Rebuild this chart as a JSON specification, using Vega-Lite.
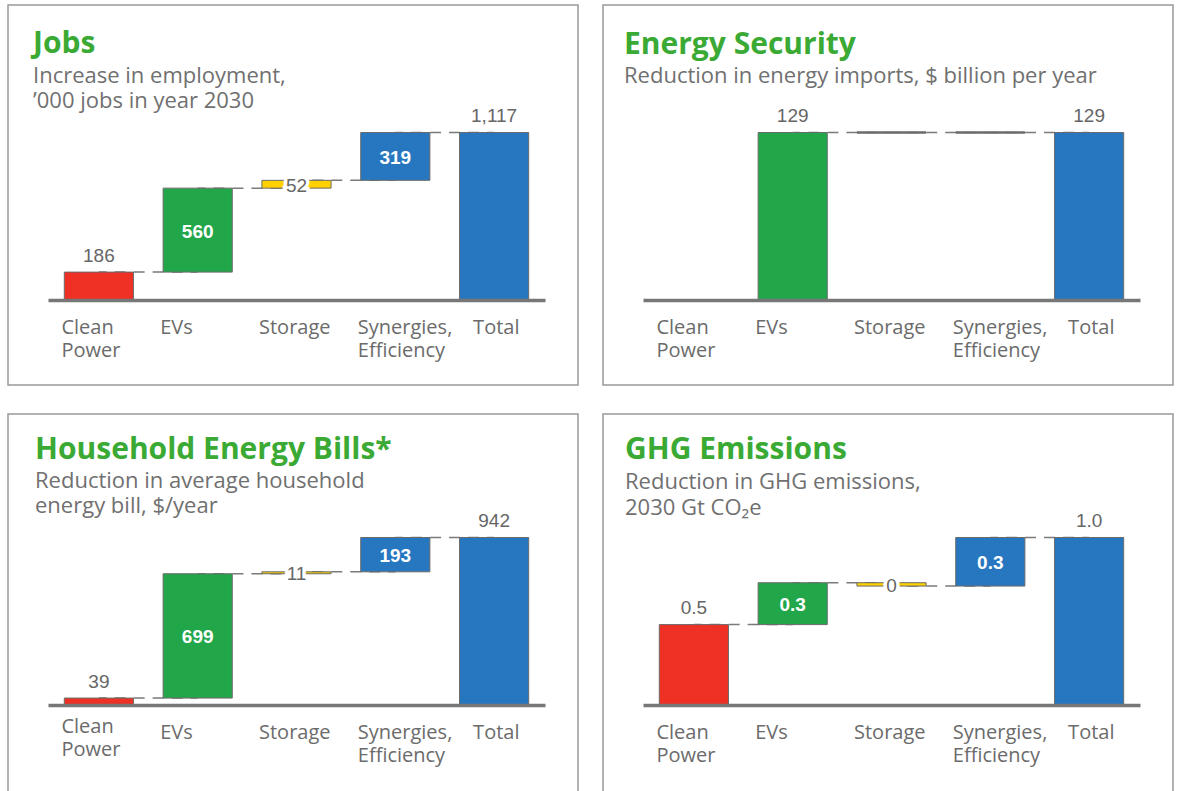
{
  "$schema": "https://vega.github.io/schema/vega-lite/v6.json",
  "background": "white",
  "padding": {"left": 7, "top": 4, "right": 5, "bottom": 0},
  "columns": 2,
  "spacing": {"row": 27, "column": 23},
  "resolve": {"scale": {"x": "independent", "y": "independent"}},
  "config": {"view": {"stroke": "#999999", "strokeWidth": 1.5}},
  "datasets": {
    "jobs": [
      {"category": "Clean Power", "start": 0, "end": 186, "label": "186", "next": "EVs"},
      {"category": "EVs", "start": 186, "end": 746, "label": "560", "next": "Storage"},
      {"category": "Storage", "start": 746, "end": 798, "label": "52", "next": "Synergies, Efficiency"},
      {"category": "Synergies, Efficiency", "start": 798, "end": 1117, "label": "319", "next": "Total"},
      {"category": "Total", "start": 0, "end": 1117, "label": "1,117", "next": null}
    ],
    "security": [
      {"category": "Clean Power", "start": 0, "end": 0, "label": "", "next": null},
      {"category": "EVs", "start": 0, "end": 129, "label": "129", "next": "Storage"},
      {"category": "Storage", "start": 129, "end": 129, "label": "", "next": "Synergies, Efficiency"},
      {"category": "Synergies, Efficiency", "start": 129, "end": 129, "label": "", "next": "Total"},
      {"category": "Total", "start": 0, "end": 129, "label": "129", "next": null}
    ],
    "bills": [
      {"category": "Clean Power", "start": 0, "end": 39, "label": "39", "next": "EVs"},
      {"category": "EVs", "start": 39, "end": 738, "label": "699", "next": "Storage"},
      {"category": "Storage", "start": 738, "end": 749, "label": "11", "next": "Synergies, Efficiency"},
      {"category": "Synergies, Efficiency", "start": 749, "end": 942, "label": "193", "next": "Total"},
      {"category": "Total", "start": 0, "end": 942, "label": "942", "next": null}
    ],
    "ghg": [
      {"category": "Clean Power", "start": 0, "end": 0.48, "label": "0.5", "next": "EVs"},
      {"category": "EVs", "start": 0.48, "end": 0.73, "label": "0.3", "next": "Storage"},
      {"category": "Storage", "start": 0.73, "end": 0.71, "label": "0", "next": "Synergies, Efficiency"},
      {"category": "Synergies, Efficiency", "start": 0.71, "end": 1.0, "label": "0.3", "next": "Total"},
      {"category": "Total", "start": 0, "end": 1.0, "label": "1.0", "next": null}
    ]
  },
  "concat": [
    {
      "width": 570, "height": 380,
      "title": {"text": "Jobs", "subtitle": ["Increase in employment,", "’000 jobs in year 2030"], "anchor": "start", "frame": "group", "orient": "top", "offset": -107.5, "dx": 25, "font": "Open Sans", "fontSize": 30, "fontWeight": "bold", "color": "#3aaa35", "subtitleFont": "Open Sans", "subtitleFontSize": 22, "subtitleColor": "#707070", "subtitlePadding": 7, "subtitleLineHeight": 25.2},
      "data": {"name": "jobs"},
      "encoding": {
        "x": {"field": "category", "type": "nominal",
          "scale": {"domain": ["Clean Power", "EVs", "Storage", "Synergies, Efficiency", "Total"], "range": [40, 537], "paddingInner": 0.3, "paddingOuter": 0.165},
          "axis": {"title": null, "orient": "bottom", "offset": -85, "ticks": false, "tickSize": 0, "domainColor": "#777777", "domainWidth": 3.5, "domainCap": "butt", "labelAngle": 0, "labelFont": "Open Sans", "labelFontSize": 20, "labelColor": "#6b6b6b", "labelPadding": 17.5, "labelLineHeight": 23, "labelBaseline": "top", "labelAlign": "left", "labelOffset": {"condition": {"test": "datum.value === 'Total'", "value": -21}, "value": -37.5}, "labelBound": false, "labelOverlap": false, "labelFlush": false, "zindex": 1,
            "labelExpr": "datum.value === 'Clean Power' ? ['Clean', 'Power'] : datum.value === 'Synergies, Efficiency' ? ['Synergies,', 'Efficiency'] : datum.value"}}
      },
      "layer": [
        {"transform": [{"filter": "datum.next != null"}],
          "mark": {"type": "rule", "stroke": "#7a7a7a", "strokeWidth": 1.5, "strokeDash": [11, 8], "strokeDashOffset": 3.25},
          "encoding": {"x2": {"field": "next"}, "y": {"field": "end", "type": "quantitative", "scale": {"domain": [0, 1117], "range": [295, 127.5], "nice": false, "zero": false}, "axis": null}}},
        {"mark": {"type": "bar", "stroke": "#6b6b6b", "strokeWidth": 1},
          "encoding": {"y": {"field": "start", "type": "quantitative", "scale": {"domain": [0, 1117], "range": [295, 127.5], "nice": false, "zero": false}, "axis": null}, "y2": {"field": "end"},
            "color": {"field": "category", "type": "nominal", "scale": {"domain": ["Clean Power", "EVs", "Storage", "Synergies, Efficiency", "Total"], "range": ["#ee3124", "#22a64a", "#ffd100", "#2677bf", "#2677bf"]}, "legend": null}}},
        {"transform": [{"filter": {"field": "category", "oneOf": ["Clean Power", "Total"]}}],
          "mark": {"type": "text", "font": "Liberation Sans", "fontSize": 19, "fill": "#666666", "baseline": "alphabetic", "dy": -10.5},
          "encoding": {"y": {"field": "end", "type": "quantitative", "scale": {"domain": [0, 1117], "range": [295, 127.5], "nice": false, "zero": false}, "axis": null}, "text": {"field": "label"}}},
        {"transform": [{"filter": {"field": "category", "oneOf": ["EVs", "Synergies, Efficiency"]}}, {"fold": ["start", "end"], "as": ["k", "v"]}],
          "mark": {"type": "text", "font": "Liberation Sans", "fontSize": 19, "fontWeight": "bold", "fill": "white", "baseline": "middle", "dy": 1.5},
          "encoding": {"y": {"aggregate": "mean", "field": "v", "type": "quantitative", "scale": {"domain": [0, 1117], "range": [295, 127.5], "nice": false, "zero": false}, "axis": null}, "text": {"field": "label"}}},
        {"transform": [{"filter": {"field": "category", "equal": "Storage"}}, {"fold": ["start", "end"], "as": ["k", "v"]}],
          "mark": {"type": "text", "font": "Liberation Sans", "fontSize": 19, "fill": "white", "stroke": "white", "strokeWidth": 7, "baseline": "middle", "dy": 1.5},
          "encoding": {"y": {"aggregate": "mean", "field": "v", "type": "quantitative", "scale": {"domain": [0, 1117], "range": [295, 127.5], "nice": false, "zero": false}, "axis": null}, "text": {"field": "label"}}},
        {"transform": [{"filter": {"field": "category", "equal": "Storage"}}, {"fold": ["start", "end"], "as": ["k", "v"]}],
          "mark": {"type": "text", "font": "Liberation Sans", "fontSize": 19, "fill": "#666666", "baseline": "middle", "dy": 1.5},
          "encoding": {"y": {"aggregate": "mean", "field": "v", "type": "quantitative", "scale": {"domain": [0, 1117], "range": [295, 127.5], "nice": false, "zero": false}, "axis": null}, "text": {"field": "label"}}}
      ]
    },
    {
      "width": 570, "height": 380,
      "title": {"text": "Energy Security", "subtitle": ["Reduction in energy imports, $ billion per year"], "anchor": "start", "frame": "group", "orient": "top", "offset": -81.9, "dx": 21, "font": "Open Sans", "fontSize": 30, "fontWeight": "bold", "color": "#3aaa35", "subtitleFont": "Open Sans", "subtitleFontSize": 22, "subtitleColor": "#707070", "subtitlePadding": 6.4, "subtitleLineHeight": 25},
      "data": {"name": "security"},
      "encoding": {
        "x": {"field": "category", "type": "nominal",
          "scale": {"domain": ["Clean Power", "EVs", "Storage", "Synergies, Efficiency", "Total"], "range": [40, 537], "paddingInner": 0.3, "paddingOuter": 0.165},
          "axis": {"title": null, "orient": "bottom", "offset": -85, "ticks": false, "tickSize": 0, "domainColor": "#777777", "domainWidth": 3.5, "domainCap": "butt", "labelAngle": 0, "labelFont": "Open Sans", "labelFontSize": 20, "labelColor": "#6b6b6b", "labelPadding": 17.5, "labelLineHeight": 23, "labelBaseline": "top", "labelAlign": "left", "labelOffset": {"condition": {"test": "datum.value === 'Total'", "value": -21}, "value": -37.5}, "labelBound": false, "labelOverlap": false, "labelFlush": false, "zindex": 1,
            "labelExpr": "datum.value === 'Clean Power' ? ['Clean', 'Power'] : datum.value === 'Synergies, Efficiency' ? ['Synergies,', 'Efficiency'] : datum.value"}}
      },
      "layer": [
        {"transform": [{"filter": "datum.next != null"}],
          "mark": {"type": "rule", "stroke": "#7a7a7a", "strokeWidth": 1.5, "strokeDash": [11, 8], "strokeDashOffset": 3.25},
          "encoding": {"x2": {"field": "next"}, "y": {"field": "end", "type": "quantitative", "scale": {"domain": [0, 129], "range": [295, 127.5], "nice": false, "zero": false}, "axis": null}}},
        {"mark": {"type": "bar", "stroke": "#6b6b6b", "strokeWidth": 1},
          "encoding": {"y": {"field": "start", "type": "quantitative", "scale": {"domain": [0, 129], "range": [295, 127.5], "nice": false, "zero": false}, "axis": null}, "y2": {"field": "end"},
            "color": {"field": "category", "type": "nominal", "scale": {"domain": ["Clean Power", "EVs", "Storage", "Synergies, Efficiency", "Total"], "range": ["#ee3124", "#22a64a", "#ffd100", "#2677bf", "#2677bf"]}, "legend": null}}},
        {"transform": [{"filter": "datum.start == datum.end && datum.end > 0"}],
          "mark": {"type": "bar", "fill": "transparent", "stroke": "#6b6b6b", "strokeWidth": 2.5},
          "encoding": {"y": {"field": "start", "type": "quantitative", "scale": {"domain": [0, 129], "range": [295, 127.5], "nice": false, "zero": false}, "axis": null}, "y2": {"field": "end"}}},
        {"transform": [{"filter": {"field": "category", "oneOf": ["EVs", "Total"]}}],
          "mark": {"type": "text", "font": "Liberation Sans", "fontSize": 19, "fill": "#666666", "baseline": "alphabetic", "dy": -10.5},
          "encoding": {"y": {"field": "end", "type": "quantitative", "scale": {"domain": [0, 129], "range": [295, 127.5], "nice": false, "zero": false}, "axis": null}, "text": {"field": "label"}}}
      ]
    },
    {
      "width": 570, "height": 380,
      "title": {"text": "Household Energy Bills*", "subtitle": ["Reduction in average household", "energy bill, $/year"], "anchor": "start", "frame": "group", "orient": "top", "offset": -102.9, "dx": 27, "font": "Open Sans", "fontSize": 30, "fontWeight": "bold", "color": "#3aaa35", "subtitleFont": "Open Sans", "subtitleFontSize": 22, "subtitleColor": "#707070", "subtitlePadding": 6.4, "subtitleLineHeight": 25},
      "data": {"name": "bills"},
      "encoding": {
        "x": {"field": "category", "type": "nominal",
          "scale": {"domain": ["Clean Power", "EVs", "Storage", "Synergies, Efficiency", "Total"], "range": [40, 537], "paddingInner": 0.3, "paddingOuter": 0.165},
          "axis": {"title": null, "orient": "bottom", "offset": -89, "ticks": false, "tickSize": 0, "domainColor": "#777777", "domainWidth": 3.5, "domainCap": "butt", "labelAngle": 0, "labelFont": "Open Sans", "labelFontSize": 20, "labelColor": "#6b6b6b", "labelPadding": {"condition": {"test": "datum.value === 'Clean Power'", "value": 11.5}, "value": 17.5}, "labelLineHeight": 23, "labelBaseline": "top", "labelAlign": "left", "labelOffset": {"condition": {"test": "datum.value === 'Total'", "value": -21}, "value": -37.5}, "labelBound": false, "labelOverlap": false, "labelFlush": false, "zindex": 1,
            "labelExpr": "datum.value === 'Clean Power' ? ['Clean', 'Power'] : datum.value === 'Synergies, Efficiency' ? ['Synergies,', 'Efficiency'] : datum.value"}}
      },
      "layer": [
        {"transform": [{"filter": "datum.next != null"}],
          "mark": {"type": "rule", "stroke": "#7a7a7a", "strokeWidth": 1.5, "strokeDash": [11, 8], "strokeDashOffset": 3.25},
          "encoding": {"x2": {"field": "next"}, "y": {"field": "end", "type": "quantitative", "scale": {"domain": [0, 942], "range": [291, 123.5], "nice": false, "zero": false}, "axis": null}}},
        {"mark": {"type": "bar", "stroke": "#6b6b6b", "strokeWidth": 1},
          "encoding": {"y": {"field": "start", "type": "quantitative", "scale": {"domain": [0, 942], "range": [291, 123.5], "nice": false, "zero": false}, "axis": null}, "y2": {"field": "end"},
            "color": {"field": "category", "type": "nominal", "scale": {"domain": ["Clean Power", "EVs", "Storage", "Synergies, Efficiency", "Total"], "range": ["#ee3124", "#22a64a", "#ffd100", "#2677bf", "#2677bf"]}, "legend": null}}},
        {"transform": [{"filter": {"field": "category", "oneOf": ["Clean Power", "Total"]}}],
          "mark": {"type": "text", "font": "Liberation Sans", "fontSize": 19, "fill": "#666666", "baseline": "alphabetic", "dy": -10.5},
          "encoding": {"y": {"field": "end", "type": "quantitative", "scale": {"domain": [0, 942], "range": [291, 123.5], "nice": false, "zero": false}, "axis": null}, "text": {"field": "label"}}},
        {"transform": [{"filter": {"field": "category", "oneOf": ["EVs", "Synergies, Efficiency"]}}, {"fold": ["start", "end"], "as": ["k", "v"]}],
          "mark": {"type": "text", "font": "Liberation Sans", "fontSize": 19, "fontWeight": "bold", "fill": "white", "baseline": "middle", "dy": 1.5},
          "encoding": {"y": {"aggregate": "mean", "field": "v", "type": "quantitative", "scale": {"domain": [0, 942], "range": [291, 123.5], "nice": false, "zero": false}, "axis": null}, "text": {"field": "label"}}},
        {"transform": [{"filter": {"field": "category", "equal": "Storage"}}, {"fold": ["start", "end"], "as": ["k", "v"]}],
          "mark": {"type": "text", "font": "Liberation Sans", "fontSize": 19, "fill": "white", "stroke": "white", "strokeWidth": 7, "baseline": "middle", "dy": 1.5},
          "encoding": {"y": {"aggregate": "mean", "field": "v", "type": "quantitative", "scale": {"domain": [0, 942], "range": [291, 123.5], "nice": false, "zero": false}, "axis": null}, "text": {"field": "label"}}},
        {"transform": [{"filter": {"field": "category", "equal": "Storage"}}, {"fold": ["start", "end"], "as": ["k", "v"]}],
          "mark": {"type": "text", "font": "Liberation Sans", "fontSize": 19, "fill": "#666666", "baseline": "middle", "dy": 1.5},
          "encoding": {"y": {"aggregate": "mean", "field": "v", "type": "quantitative", "scale": {"domain": [0, 942], "range": [291, 123.5], "nice": false, "zero": false}, "axis": null}, "text": {"field": "label"}}}
      ]
    },
    {
      "width": 570, "height": 380,
      "title": {"text": "GHG Emissions", "subtitle": ["Reduction in GHG emissions,", "2030 Gt CO₂e"], "anchor": "start", "frame": "group", "orient": "top", "offset": -104.5, "dx": 22, "font": "Open Sans", "fontSize": 30, "fontWeight": "bold", "color": "#3aaa35", "subtitleFont": "Open Sans", "subtitleFontSize": 22, "subtitleColor": "#707070", "subtitlePadding": 7, "subtitleLineHeight": 26},
      "data": {"name": "ghg"},
      "encoding": {
        "x": {"field": "category", "type": "nominal",
          "scale": {"domain": ["Clean Power", "EVs", "Storage", "Synergies, Efficiency", "Total"], "range": [40, 537], "paddingInner": 0.3, "paddingOuter": 0.165},
          "axis": {"title": null, "orient": "bottom", "offset": -89, "ticks": false, "tickSize": 0, "domainColor": "#777777", "domainWidth": 3.5, "domainCap": "butt", "labelAngle": 0, "labelFont": "Open Sans", "labelFontSize": 20, "labelColor": "#6b6b6b", "labelPadding": 17.5, "labelLineHeight": 23, "labelBaseline": "top", "labelAlign": "left", "labelOffset": {"condition": {"test": "datum.value === 'Total'", "value": -21}, "value": -37.5}, "labelBound": false, "labelOverlap": false, "labelFlush": false, "zindex": 1,
            "labelExpr": "datum.value === 'Clean Power' ? ['Clean', 'Power'] : datum.value === 'Synergies, Efficiency' ? ['Synergies,', 'Efficiency'] : datum.value"}}
      },
      "layer": [
        {"transform": [{"filter": "datum.next != null"}],
          "mark": {"type": "rule", "stroke": "#7a7a7a", "strokeWidth": 1.5, "strokeDash": [11, 8], "strokeDashOffset": 3.25},
          "encoding": {"x2": {"field": "next"}, "y": {"field": "end", "type": "quantitative", "scale": {"domain": [0, 1.0], "range": [291, 123.5], "nice": false, "zero": false}, "axis": null}}},
        {"mark": {"type": "bar", "stroke": "#6b6b6b", "strokeWidth": 1},
          "encoding": {"y": {"field": "start", "type": "quantitative", "scale": {"domain": [0, 1.0], "range": [291, 123.5], "nice": false, "zero": false}, "axis": null}, "y2": {"field": "end"},
            "color": {"field": "category", "type": "nominal", "scale": {"domain": ["Clean Power", "EVs", "Storage", "Synergies, Efficiency", "Total"], "range": ["#ee3124", "#22a64a", "#ffd100", "#2677bf", "#2677bf"]}, "legend": null}}},
        {"transform": [{"filter": {"field": "category", "oneOf": ["Clean Power", "Total"]}}],
          "mark": {"type": "text", "font": "Liberation Sans", "fontSize": 19, "fill": "#666666", "baseline": "alphabetic", "dy": -10.5},
          "encoding": {"y": {"field": "end", "type": "quantitative", "scale": {"domain": [0, 1.0], "range": [291, 123.5], "nice": false, "zero": false}, "axis": null}, "text": {"field": "label"}}},
        {"transform": [{"filter": {"field": "category", "oneOf": ["EVs", "Synergies, Efficiency"]}}, {"fold": ["start", "end"], "as": ["k", "v"]}],
          "mark": {"type": "text", "font": "Liberation Sans", "fontSize": 19, "fontWeight": "bold", "fill": "white", "baseline": "middle", "dy": 1.5},
          "encoding": {"y": {"aggregate": "mean", "field": "v", "type": "quantitative", "scale": {"domain": [0, 1.0], "range": [291, 123.5], "nice": false, "zero": false}, "axis": null}, "text": {"field": "label"}}},
        {"transform": [{"filter": {"field": "category", "equal": "Storage"}}, {"fold": ["start", "end"], "as": ["k", "v"]}],
          "mark": {"type": "text", "font": "Liberation Sans", "fontSize": 19, "fill": "white", "stroke": "white", "strokeWidth": 7, "baseline": "middle", "dy": 1.5},
          "encoding": {"y": {"aggregate": "mean", "field": "v", "type": "quantitative", "scale": {"domain": [0, 1.0], "range": [291, 123.5], "nice": false, "zero": false}, "axis": null}, "text": {"field": "label"}}},
        {"transform": [{"filter": {"field": "category", "equal": "Storage"}}, {"fold": ["start", "end"], "as": ["k", "v"]}],
          "mark": {"type": "text", "font": "Liberation Sans", "fontSize": 19, "fill": "#666666", "baseline": "middle", "dy": 1.5},
          "encoding": {"y": {"aggregate": "mean", "field": "v", "type": "quantitative", "scale": {"domain": [0, 1.0], "range": [291, 123.5], "nice": false, "zero": false}, "axis": null}, "text": {"field": "label"}}}
      ]
    }
  ]
}
